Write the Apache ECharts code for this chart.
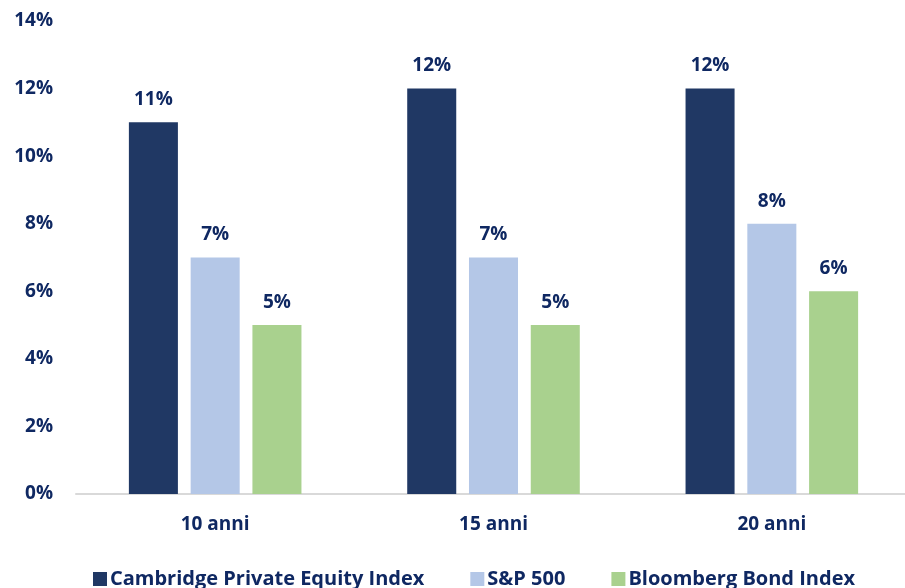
<!DOCTYPE html>
<html>
<head>
<meta charset="utf-8">
<script src="https://cdn.jsdelivr.net/npm/echarts@6/dist/echarts.min.js"></script>
<style>
    html, body { margin: 0; padding: 0; background: #fff; }
    #chart { width: 905px; height: 588px; }
</style>
</head>
<body>
<div id="chart"></div>
<script>
var categories = ["10 anni", "15 anni", "20 anni"];
var seriesNames = ["Cambridge Private Equity Index", "S&P 500", "Bloomberg Bond Index"];
var cambridge = [11, 12, 12];
var sp500 = [7, 7, 8];
var bloomberg = [5, 5, 6];
var colors = ["#203864", "#b4c7e7", "#a9d18e"];

var textColor = "#0f2862";
var font = "'Open Sans', Lato, sans-serif";

var c = echarts.init(document.getElementById("chart"));

function makeSeries(name, values) {
    return {
        name: name,
        type: "bar",
        data: values,
        barGap: "26%",
        barCategoryGap: "38%",
        label: {
            show: true,
            position: "top",
            distance: 13,
            formatter: "{c}%",
            color: textColor,
            fontWeight: "bold",
            fontSize: 19,
            fontFamily: font
        }
    };
}

var option = {
    animation: false,
    color: colors,
    textStyle: {
        fontFamily: font
    },
    grid: {
        left: 76,
        width: 835,
        top: 21,
        bottom: 94,
        outerBoundsMode: "none",
        containLabel: false
    },
    legend: {
        data: seriesNames,
        left: 88,
        top: 564,
        icon: "rect",
        itemWidth: 14,
        itemHeight: 14,
        itemGap: 46,
        textStyle: {
            color: textColor,
            fontWeight: "bold",
            fontSize: 20,
            fontFamily: font,
            padding: [0, 0, 0, -2]
        }
    },
    xAxis: {
        type: "category",
        data: categories,
        axisLine: { lineStyle: { color: "#d9d9d9", width: 2 } },
        axisTick: { show: false },
        axisLabel: {
            color: textColor,
            fontWeight: "bold",
            fontSize: 19,
            margin: 21,
            fontFamily: font
        }
    },
    yAxis: {
        type: "value",
        min: 0,
        max: 14,
        interval: 2,
        splitLine: { show: false },
        axisLine: { show: false },
        axisTick: { show: false },
        axisLabel: {
            formatter: "{value}%",
            color: textColor,
            fontWeight: "bold",
            fontSize: 19,
            margin: 23,
            fontFamily: font
        }
    },
    series: [
        makeSeries(seriesNames[0], cambridge),
        makeSeries(seriesNames[1], sp500),
        makeSeries(seriesNames[2], bloomberg)
    ]
};

c.setOption(option);
</script>
</body>
</html>
